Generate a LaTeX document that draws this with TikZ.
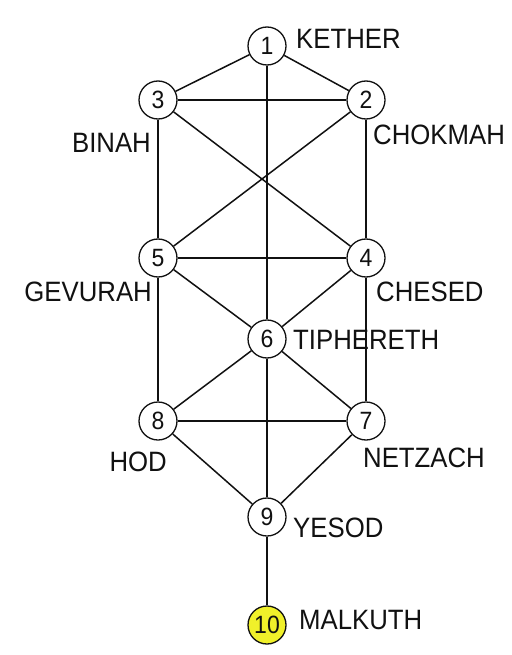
\documentclass[tikz,border=0pt]{standalone}
\usepackage{fontspec}
\setmainfont{Liberation Sans}
\newfontfamily\treefont[FakeStretch=0.92]{Liberation Sans}
\usetikzlibrary{positioning}
\definecolor{ink}{HTML}{111111}
\definecolor{malkuth}{HTML}{F0F02A}
\tikzset{
  every node/.style={font=\treefont,text=ink},
  sephira/.style={circle,draw=ink,line width=1.3pt,fill=white,minimum size=38pt,inner sep=0pt,
    font=\treefont\fontsize{25}{25}\selectfont},
  earth/.style={sephira,fill=malkuth},
  sephname/.style={inner sep=0pt,font=\treefont\fontsize{28}{28}\selectfont},
  channel/.style={draw=ink,line width=1.5pt}
}

\begin{document}
\begin{tikzpicture}[x=1pt,y=-1pt]
  \fill[white] (0,0) rectangle (511,655);
  \useasboundingbox (0,0) rectangle (511,655);

  % The ten sephirot, three pillars.
  \node[sephira] (kether)    at (267,46)  {1};
  \node[sephira] (chokmah)   at (366,100) {2};
  \node[sephira] (binah)     at (158,100) {3};
  \node[sephira] (chesed)    at (366,258) {4};
  \node[sephira] (gevurah)   at (158,258) {5};
  \node[sephira] (tiphereth) at (267,339) {6};
  \node[sephira] (netzach)   at (366,421) {7};
  \node[sephira] (hod)       at (158,421) {8};
  \node[sephira] (yesod)     at (267,517) {9};
  \node[earth]   (malkuth)   at (267,625) {10};

  % Names beside each circle.
  \node[sephname,anchor=west] (kether-l)    at (296,39)  {KETHER};
  \node[sephname,anchor=west] (chokmah-l)   at (373,135) {CHOKMAH};
  \node[sephname,anchor=east] (binah-l)     at (151,143) {BINAH};
  \node[sephname,anchor=west] (chesed-l)    at (376,292) {CHESED};
  \node[sephname,anchor=east] (gevurah-l)   at (152,292) {GEVURAH};
  \node[sephname,anchor=west] (tiphereth-l) at (293,340) {TIPHERETH};
  \node[sephname,anchor=west] (netzach-l)   at (363,458) {NETZACH};
  \node[sephname,anchor=east] (hod-l)       at (167,462) {HOD};
  \node[sephname,anchor=west] (yesod-l)     at (293,528) {YESOD};
  \node[sephname,anchor=west] (malkuth-l)   at (299,620) {MALKUTH};

  % Paths between the sephirot.
  \foreach \a/\b in {kether/binah,kether/chokmah,kether/tiphereth,binah/chokmah,
      binah/gevurah,chokmah/chesed,binah/chesed,chokmah/gevurah,gevurah/chesed,
      gevurah/tiphereth,chesed/tiphereth,gevurah/hod,chesed/netzach,
      tiphereth/hod,tiphereth/netzach,tiphereth/yesod,hod/netzach,
      hod/yesod,netzach/yesod,yesod/malkuth}
    \draw[channel] (\a) -- (\b);
\end{tikzpicture}
\end{document}
